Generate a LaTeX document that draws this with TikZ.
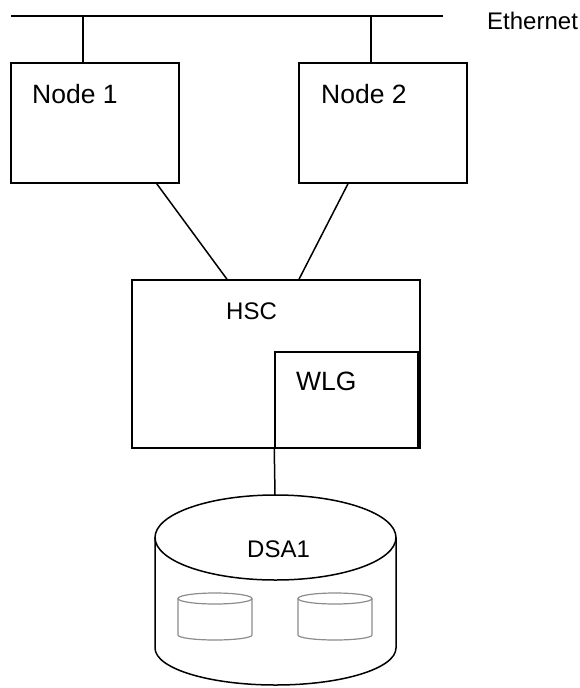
\documentclass[tikz,border=0pt]{standalone}
\usepackage{fontspec}
\setmainfont{Liberation Sans}
\usetikzlibrary{calc}
\begin{document}
\begin{tikzpicture}[x=1pt,y=-1pt,
  box/.style={draw,line width=1.5pt,minimum width=#1,inner sep=0pt},
  lbl/.style={anchor=base west,inner sep=0pt,font=\fontsize{24}{28}\selectfont},
  lblbig/.style={anchor=base west,inner sep=0pt,font=\fontsize{26.5}{30}\selectfont},
  wire/.style={line width=1.5pt},
  disk/.style={draw=black!45,line width=1.2pt}]
\useasboundingbox (0,0) rectangle (580,688);
% bus
\coordinate (busL) at (11,16);
\coordinate (busR) at (443,16);
\coordinate (tap1) at (83,16);
\coordinate (tap2) at (371,16);
\draw[wire] (busL) -- (busR);
\node[lbl] (eth) at (487,29) {Ethernet};
% nodes
\node[box=168pt,minimum height=120pt] (n1) at (95,123) {};
\node[box=168pt,minimum height=120pt] (n2) at (383,123) {};
\node[lblbig] (t1) at (32,103) {Node 1};
\node[lblbig] (t2) at (321,103) {Node 2};
\draw[wire] (tap1) -- (tap1 |- n1.north);
\draw[wire] (tap2) -- (tap2 |- n2.north);
% HSC
\node[box=288pt,minimum height=168pt] (hsc) at (276,364) {};
\node[box=143pt,minimum height=96pt] (wlg) at (346.5,400) {};
\node[lbl] (thsc) at (226,319) {HSC};
\node[lblbig] (twlg) at (296,390) {WLG};
\draw[wire] ([xshift=-23pt]n1.south east) -- ([xshift=-49pt]hsc.north);
\draw[wire] ([xshift=-35pt]n2.south) -- ([xshift=23pt]hsc.north);
% DSA cylinder
\coordinate (dsatop) at (275,495);
\draw[wire] (wlg.south west) -- (dsatop);
\draw[wire] (275.5,537.5) ellipse [x radius=120.5, y radius=42.5];
\draw[wire] (155,537.5) -- (155,648) arc[start angle=180,end angle=0,x radius=120.5,y radius=37] -- (396,537.5);
\node[lbl] (tdsa) at (247,557) {DSA1};
% small disks
\foreach \cx/\nm in {215/d1,335/d2}{
  \draw[disk] (\cx,598.5) ellipse [x radius=37, y radius=5.5];
  \draw[disk] (\cx-37,598.5) -- (\cx-37,635) arc[start angle=180,end angle=0,x radius=37,y radius=5] -- (\cx+37,598.5);
}
\end{tikzpicture}
\end{document}
